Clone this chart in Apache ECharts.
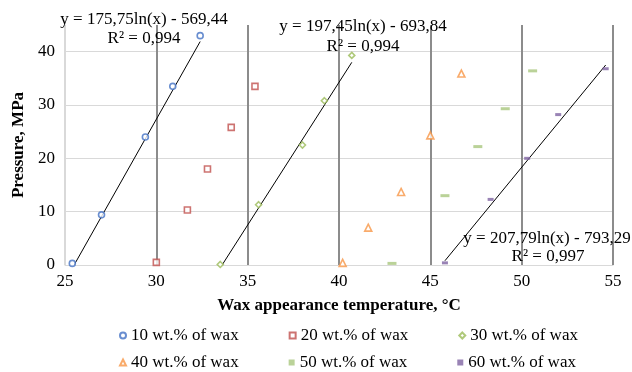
<!DOCTYPE html>
<html><head><meta charset="utf-8">
<script src="https://cdn.jsdelivr.net/npm/echarts@6/dist/echarts.min.js"></script>
<style>html,body{margin:0;padding:0;background:#fff}#c{width:632px;height:372px}</style>
</head><body><div id="c"></div>
<script>
const seriesNames = ['10 wt.% of wax','20 wt.% of wax','30 wt.% of wax','40 wt.% of wax','50 wt.% of wax','60 wt.% of wax'];
const s10 = [[25.4,0.3],[27.0,9.4],[29.4,24.0],[30.9,33.5],[32.4,43.0]];
const s20 = [[30.0,0.5],[31.7,10.3],[32.8,18.0],[34.1,25.8],[35.4,33.5]];
const s30 = [[33.5,0.1],[35.6,11.3],[38.0,22.5],[39.2,30.8],[40.7,39.3]];
const s40 = [[40.2,0.4],[41.6,7.0],[43.4,13.7],[45.0,24.3],[46.7,35.9]];
const s50 = [[42.9,0.3],[45.8,13.0],[47.6,22.2],[49.1,29.3],[50.6,36.4]];
const s60 = [[45.8,0.4],[48.3,12.3],[50.3,20.0],[52.0,28.2],[54.6,36.8]];
const trend10 = [[25.5,0],[32.4,41.9]];
const trend30 = [[33.6,0],[40.7,38.0]];
const trend60 = [[45.8,0.8],[54.6,37.5]];
const eqTexts = [
  ['y = 175,75ln(x) - 569,44','R² = 0,994'],
  ['y = 197,45ln(x) - 693,84','R² = 0,994'],
  ['y = 207,79ln(x) - 793,29','R² = 0,997']
];
const xTicks = {min:25,max:55,interval:5};
const yTicks = {min:0,max:45,interval:10};

const font = 'Liberation Serif';
const chart = echarts.init(document.getElementById('c'));
const mk = (name, data, symbol, size, color, filled) => ({
  name, type:'scatter', data, symbol, symbolSize:size,
  itemStyle: filled ? {color} : {color:'#fff', borderColor:color, borderWidth:1.6},
  z:5
});
const tl = (data) => ({type:'line', data, symbol:'none', lineStyle:{color:'#000',width:1}, silent:true, z:4});
const legendBase = {
  itemWidth:6, itemHeight:6, itemGap:50,
  textStyle:{fontFamily:font,fontSize:17,color:'#000'}, left:114
};
const eq = (text, x, y) => ({type:'text',x,y,z:10,
  style:{text,font:'17px '+font,fill:'#000',align:'center',verticalAlign:'middle'}});
chart.setOption({
  animation:false,
  textStyle:{fontFamily:font},
  grid:{left:65,right:19,top:25,bottom:107},
  xAxis:{type:'value',min:xTicks.min,max:xTicks.max,interval:xTicks.interval,
    name:'Wax appearance temperature, °C',nameLocation:'middle',nameGap:32,
    nameTextStyle:{fontFamily:font,fontSize:17,fontWeight:'bold',color:'#000'},
    axisLine:{show:true,lineStyle:{color:'#d9d9d9',width:1}},
    axisTick:{show:false},
    axisLabel:{fontFamily:font,fontSize:17,color:'#000',margin:8},
    splitLine:{show:true,lineStyle:{color:['#d9d9d9','#8c8c8c','#8c8c8c','#8c8c8c','#8c8c8c','#8c8c8c','#8c8c8c'],width:2}}
  },
  yAxis:{type:'value',min:yTicks.min,max:yTicks.max,interval:yTicks.interval,
    name:'Pressure, MPa',nameLocation:'middle',nameGap:37,nameRotate:90,
    nameTextStyle:{fontFamily:font,fontSize:17,fontWeight:'bold',color:'#000'},
    axisLine:{show:true,lineStyle:{color:'#d9d9d9',width:1}},
    axisTick:{show:false},
    axisLabel:{fontFamily:font,fontSize:17,color:'#000',margin:10,showMaxLabel:false},
    splitLine:{show:true,lineStyle:{color:['#d9d9d9','#d9d9d9','#d9d9d9','#d9d9d9','#d9d9d9','rgba(0,0,0,0)'],width:1}}
  },
  legend:[
    Object.assign({},legendBase,{top:322,data:seriesNames.slice(0,3)}),
    Object.assign({},legendBase,{top:349,data:seriesNames.slice(3)})
  ],
  graphic:[
    eq(eqTexts[0][0],144,20), eq(eqTexts[0][1],144,39),
    eq(eqTexts[1][0],363,27), eq(eqTexts[1][1],363,47),
    eq(eqTexts[2][0],547,239), eq(eqTexts[2][1],548,257)
  ],
  series:[
    mk(seriesNames[0],s10,'circle',6,'#4472C4',false),
    mk(seriesNames[1],s20,'rect',6,'#C0504D',false),
    mk(seriesNames[2],s30,'diamond',6,'#9BBB59',false),
    mk(seriesNames[3],s40,'triangle',7,'#F79646',false),
    mk(seriesNames[4],s50,'rect',[9,3],'#A9C77E',true),
    mk(seriesNames[5],s60,'rect',[6,3],'#8064A2',true),
    tl(trend10), tl(trend30), tl(trend60)
  ]
});
</script></body></html>
